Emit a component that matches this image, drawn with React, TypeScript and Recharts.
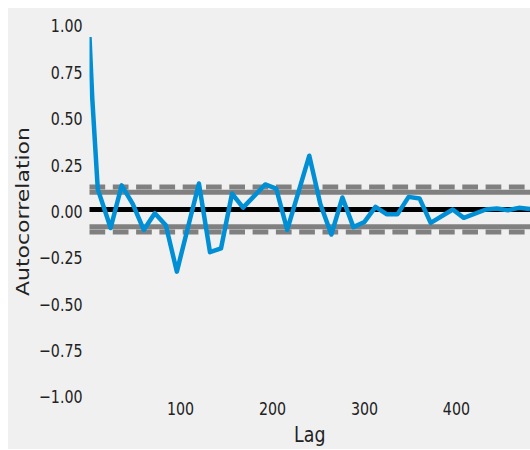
import React from 'react';
import { LineChart, Line, XAxis, YAxis, ReferenceLine } from 'recharts';

// autocorrelation values
const lags = [1, 4, 10, 24, 36, 48, 60, 72, 84, 96, 120, 132, 144, 156, 168, 192, 204, 216, 240, 252, 264, 276, 288, 300, 312, 324, 336, 348, 360, 372, 396, 408, 432, 444, 456, 468, 480];
const acf = [0.93, 0.6, 0.11, -0.1, 0.13, 0.03, -0.11, -0.02, -0.085, -0.335, 0.14, -0.23, -0.21, 0.086, 0.01, 0.135, 0.113, -0.11, 0.29, 0.03, -0.135, 0.065, -0.095, -0.067, 0.014, -0.025, -0.025, 0.068, 0.059, -0.072, 0.0, -0.045, 0.0, 0.005, -0.004, 0.009, 0.002];

// confidence bands (99% dashed, 95% solid)
const z99Level = 0.121;
const z95Level = 0.093;

const xTicks = [100, 200, 300, 400];
const yTicks = [1, 0.75, 0.5, 0.25, 0, -0.25, -0.5, -0.75, -1];

const data = lags.map((lag, i) => ({ lag, value: acf[i] }));

const FONT = '"DejaVu Sans", sans-serif';
const TEXT = '#222222';
const SQUASH = 0.79;

const fmtY = (v: number) => (v < 0 ? '\u2212' + Math.abs(v).toFixed(2) : v.toFixed(2));

const YTick = (props: any) => {
  const { x, y, payload } = props;
  return (
    <g transform={`translate(${x},${y}) scale(${SQUASH},1)`}>
      <text x={0} y={0} dy={8.4} textAnchor="end" fontSize={18} fontFamily={FONT} fill={TEXT}>
        {fmtY(payload.value)}
      </text>
    </g>
  );
};

const XTick = (props: any) => {
  const { x, y, payload } = props;
  return (
    <g transform={`translate(${x},${y}) scale(${SQUASH},1)`}>
      <text x={0} y={0} dy={20.5} textAnchor="middle" fontSize={18} fontFamily={FONT} fill={TEXT}>
        {payload.value}
      </text>
    </g>
  );
};

const XLabel = (props: any) => {
  const { x, y, width } = props.viewBox;
  return (
    <g transform={`translate(${x + width / 2},${y + 46.7}) scale(${SQUASH},1)`}>
      <text x={0} y={0} textAnchor="middle" fontSize={22} fontFamily={FONT} fill={TEXT}>
        Lag
      </text>
    </g>
  );
};

const YLabel = (props: any) => {
  const { y, height } = props.viewBox;
  return (
    <g transform={`translate(21.3,${y + height / 2 + 2}) scale(${SQUASH},1) rotate(-90)`}>
      <text x={0} y={0} textAnchor="middle" fontSize={22} fontFamily={FONT} fill={TEXT}>
        Autocorrelation
      </text>
    </g>
  );
};

export default function App() {
  return (
    <div style={{ position: 'fixed', top: 8, left: 8, width: 522, height: 441, background: '#f0f0f0' }}>
      <LineChart width={522} height={441} data={data} margin={{ top: 16, right: 0, bottom: 0, left: 0 }}>
        <XAxis
          dataKey="lag"
          type="number"
          domain={[1, 480]}
          ticks={xTicks}
          allowDataOverflow
          axisLine={false}
          tickLine={false}
          tickSize={0}
          tickMargin={0}
          height={54}
          tick={<XTick />}
          label={<XLabel />}
        />
        <YAxis
          type="number"
          domain={[-1, 1]}
          ticks={yTicks}
          axisLine={false}
          tickLine={false}
          tickSize={0}
          tickMargin={7}
          width={81.5}
          tick={<YTick />}
          label={<YLabel />}
        />
        <ReferenceLine y={z99Level} stroke="#808080" strokeWidth={5} strokeDasharray="15.7 7.6" />
        <ReferenceLine y={z95Level} stroke="#808080" strokeWidth={5} />
        <ReferenceLine y={0} stroke="#000000" strokeWidth={5} />
        <ReferenceLine y={-z95Level} stroke="#808080" strokeWidth={5} />
        <ReferenceLine y={-z99Level} stroke="#808080" strokeWidth={5} strokeDasharray="15.7 7.6" />
        <Line
          type="linear"
          dataKey="value"
          stroke="#008fd5"
          strokeWidth={4.5}
          strokeLinejoin="round"
          dot={false}
          activeDot={false}
          isAnimationActive={false}
        />
      </LineChart>
    </div>
  );
}
